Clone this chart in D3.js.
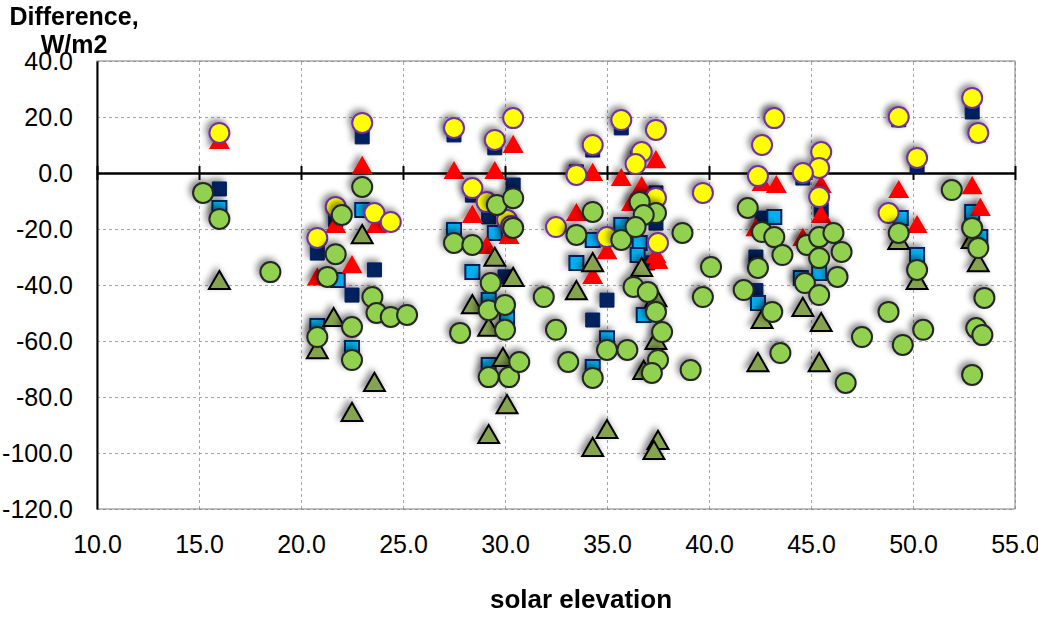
<!DOCTYPE html>
<html>
<head>
<meta charset="utf-8">
<script src="https://cdnjs.cloudflare.com/ajax/libs/d3/7.8.5/d3.min.js"></script>
<style>
body { margin: 0; background: #fff; }
text { font-family: Arial, "Liberation Sans", sans-serif; fill: #000; }
</style>
</head>
<body>
<div id="chart-area"></div>
<script>
// Data: [solar elevation, difference]

const xTicks = [10, 15, 20, 25, 30, 35, 40, 45, 50, 55];
const yTicks = [-120, -100, -80, -60, -40, -20, 0, 20, 40];

const navySquares = [
  [16.0,-5.7],[20.8,-28.6],[21.7,-16.8],[22.5,-43.6],[23.0,12.9],[23.6,-34.6],
  [27.5,13.6],[29.5,9.0],[28.4,-7.9],[29.2,-15.7],[30.4,-4.3],[30.0,-37.1],
  [34.3,8.2],[33.5,0.4],[35.7,16.1],[36.5,5.4],[37.4,-7.1],[37.4,-17.9],
  [37.0,-32.1],[35.0,-45.4],[34.3,-52.5],[43.2,19.6],[44.6,-1.8],[45.5,-13.2],
  [42.6,-16.1],[42.3,-30.0],[42.3,-42.0],[49.3,19.0],[52.9,21.8],[53.2,13.6],[50.2,2.5]
];

const blueSquares = [
  [16.0,-12.5],[20.8,-54.6],[21.8,-38.2],[23.0,-13.2],[22.5,-62.5],[27.5,-20.4],
  [29.5,-21.4],[28.4,-35.4],[29.2,-45.4],[29.2,-68.6],[30.1,-51.8],[34.3,-23.9],
  [33.5,-32.1],[34.3,-69.3],[35.0,-59.0],[35.7,-18.6],[36.6,-25.0],[36.5,-29.3],
  [36.8,-50.7],[43.2,-15.7],[42.4,-33.9],[44.5,-37.5],[45.4,-35.7],[42.4,-46.4],
  [49.4,-16.1],[52.9,-13.9],[53.3,-22.9],[50.2,-29.3]
];

const redTriangles = [
  [16.0,10.7],[20.8,-38.0],[21.7,-19.3],[23.0,1.8],[23.7,-19.3],[22.5,-33.6],
  [27.5,0.0],[29.5,0.0],[28.4,-15.7],[29.1,-26.8],[30.4,9.3],[30.2,-23.2],
  [33.5,-15.0],[35.0,-28.6],[34.3,-37.5],[34.3,-0.7],[37.4,3.9],[35.7,-2.5],
  [36.7,-5.4],[36.2,-11.4],[37.4,-30.0],[37.5,-32.1],[42.6,-4.3],[43.3,-5.0],
  [45.5,-5.0],[45.5,-15.7],[42.3,-20.4],[44.6,-23.9],[49.3,-6.8],[52.9,-5.4],
  [53.3,-13.2],[50.2,-19.3]
];

const yellowCircles = [
  [16.0,14.3],[20.8,-23.2],[21.7,-12.1],[23.0,17.9],[23.6,-14.3],[24.4,-17.5],
  [27.5,16.1],[29.5,11.8],[28.4,-5.4],[29.1,-10.4],[30.4,19.6],[30.1,-16.8],
  [30.3,-18.9],[32.5,-19.3],[35.0,-22.9],[34.3,10.0],[33.5,-0.7],[35.7,18.9],
  [37.4,15.4],[36.7,7.5],[36.4,3.2],[37.4,-8.9],[37.5,-25.0],[43.2,19.6],
  [42.6,10.0],[45.5,7.5],[45.4,1.8],[44.6,0.0],[42.4,-1.1],[39.7,-7.1],
  [45.4,-8.6],[49.3,20.0],[52.9,26.8],[53.2,14.3],[50.2,5.4],[48.8,-14.3]
];

const greenTriangles = [
  [16.0,-39.3],[20.8,-64.0],[21.6,-52.5],[23.0,-22.9],[23.6,-75.7],[22.5,-86.4],
  [28.4,-47.9],[29.5,-31.0],[29.2,-56.0],[29.9,-66.8],[30.1,-83.6],[29.2,-94.3],
  [30.4,-38.2],[34.3,-32.9],[33.5,-42.9],[36.7,-34.6],[37.4,-45.4],[37.4,-60.7],
  [36.8,-71.4],[35.0,-92.5],[34.3,-98.9],[37.5,-96.4],[37.3,-100.0],[44.6,-48.9],
  [42.6,-53.2],[45.5,-54.3],[42.4,-68.6],[45.4,-68.6],[49.3,-25.0],[50.2,-39.3],
  [52.9,-24.6],[53.2,-32.9]
];

const greenCircles = [
  [15.2,-7.1],[16.0,-16.4],[18.5,-35.4],[20.8,-58.6],[21.7,-29.0],[22.0,-15.0],
  [21.3,-37.1],[23.0,-5.0],[23.5,-44.3],[23.7,-50.0],[24.4,-51.4],[25.2,-50.7],
  [22.5,-55.0],[22.5,-66.8],[27.5,-25.0],[28.4,-25.7],[29.6,-11.4],[29.3,-39.3],
  [29.2,-49.0],[27.8,-57.1],[30.0,-56.0],[29.2,-72.9],[30.2,-72.9],[30.4,-9.0],
  [30.4,-19.6],[31.9,-44.3],[30.0,-47.1],[34.3,-13.9],[33.5,-22.1],[35.7,-23.9],
  [32.5,-56.0],[30.7,-67.5],[33.1,-67.5],[34.3,-73.2],[35.0,-63.2],[36.0,-63.2],
  [37.7,-56.8],[37.5,-66.8],[37.2,-71.4],[36.6,-10.4],[37.4,-14.3],[36.8,-15.0],
  [36.4,-19.3],[36.3,-40.7],[37.0,-42.5],[37.4,-49.6],[41.9,-12.5],[42.6,-21.1],
  [43.2,-22.9],[38.7,-21.4],[43.6,-29.3],[44.8,-25.7],[45.4,-22.9],[45.4,-30.4],
  [42.4,-33.9],[40.1,-33.6],[44.7,-39.3],[45.4,-43.6],[41.7,-41.8],[39.7,-44.3],
  [43.1,-49.6],[39.1,-70.4],[43.5,-64.3],[51.9,-6.1],[52.9,-19.6],[53.2,-26.8],
  [49.3,-21.4],[50.2,-34.6],[46.1,-21.4],[46.5,-28.2],[46.3,-37.1],[53.5,-44.6],
  [48.8,-49.6],[47.5,-58.6],[49.5,-61.4],[50.5,-56.0],[53.1,-55.4],[53.4,-57.9],
  [52.9,-72.1],[46.7,-75.0]
];

// Configure canvas //

const margins = {left: 97, right: 23, top: 61, bottom: 111};
const width = 1038 - margins.left - margins.right;
const height = 620 - margins.top - margins.bottom;

var svg = d3.select("#chart-area")
  .append("svg")
  .attr("width", 1038)
  .attr("height", 620);

var defs = svg.append("defs");
var shadow = defs.append("filter")
  .attr("id", "shadow")
  .attr("x", "-100%").attr("y", "-100%")
  .attr("width", "300%").attr("height", "300%");
shadow.append("feDropShadow")
  .attr("dx", -3).attr("dy", -3)
  .attr("stdDeviation", 3)
  .attr("flood-color", "#000")
  .attr("flood-opacity", 0.45);

var g = svg.append("g")
  .attr("transform", "translate(" + margins.left + "," + margins.top + ")");

var x = d3.scaleLinear().domain([10, 55]).range([0, width]);
var y = d3.scaleLinear().domain([-120, 40]).range([height, 0]);

// Gridlines
g.append("g")
  .attr("class", "grid")
  .call(d3.axisLeft(y).tickValues(yTicks).tickSize(-width).tickFormat(""))
  .call(s => s.select(".domain").remove());
g.append("g")
  .attr("class", "grid")
  .attr("transform", "translate(0," + height + ")")
  .call(d3.axisBottom(x).tickValues(xTicks).tickSize(-height).tickFormat(""))
  .call(s => s.select(".domain").remove());
g.selectAll(".grid line")
  .attr("stroke", "#a6a6a6")
  .attr("stroke-dasharray", "3,3");

// Plot border
g.append("rect")
  .attr("width", width)
  .attr("height", height)
  .attr("fill", "none")
  .attr("stroke", "#808080")
  .attr("stroke-width", 1);

// Y axis labels
var yAxis = g.append("g")
  .call(d3.axisLeft(y).tickValues(yTicks).tickSize(0).tickPadding(24)
    .tickFormat(d => d.toFixed(1)));
yAxis.select(".domain").attr("stroke", "#000").attr("stroke-width", 2);
yAxis.selectAll("text").attr("font-size", "25px");

// X axis labels (low)
var xAxis = g.append("g")
  .attr("transform", "translate(0," + height + ")")
  .call(d3.axisBottom(x).tickValues(xTicks).tickSize(0).tickPadding(26)
    .tickFormat(d => d.toFixed(1)));
xAxis.select(".domain").remove();
xAxis.selectAll("text").attr("font-size", "25px");

// Zero line with crossing ticks
[d3.axisBottom(x), d3.axisTop(x)].forEach(a => {
  var z = g.append("g")
    .attr("transform", "translate(0," + y(0) + ")")
    .call(a.tickValues(xTicks).tickSizeOuter(0).tickSizeInner(7).tickFormat(""));
  z.select(".domain").attr("stroke", "#000").attr("stroke-width", 2);
  z.selectAll("line").attr("stroke", "#000").attr("stroke-width", 2);
});

// Markers
const series = [
  {pts: navySquares, shape: "square", fill: "#002060", stroke: "#002060", sw: 1},
  {pts: blueSquares, shape: "square", fill: "#00b0f0", stroke: "#002060", sw: 2},
  {pts: redTriangles, shape: "triangle", fill: "#ff0000", stroke: "none", sw: 0},
  {pts: yellowCircles, shape: "circle", fill: "#ffff00", stroke: "#7030a0", sw: 2},
  {pts: greenTriangles, shape: "triangle", fill: "#86a34e", stroke: "#000", sw: 2},
  {pts: greenCircles, shape: "circle", fill: "#92d050", stroke: "#262626", sw: 2}
];

var symbols = {
  square: d3.symbol().type(d3.symbolSquare).size(14 * 14),
  triangle: d3.symbol().type(d3.symbolTriangle).size(190),
  circle: d3.symbol().type(d3.symbolCircle).size(Math.PI * 10 * 10)
};

series.forEach(s => {
  g.append("g")
    .attr("filter", "url(#shadow)")
    .selectAll("path")
    .data(s.pts)
    .enter()
    .append("path")
    .attr("d", symbols[s.shape])
    .attr("transform", d => "translate(" + x(d[0]) + "," + y(d[1]) + ")")
    .attr("fill", s.fill)
    .attr("stroke", s.stroke)
    .attr("stroke-width", s.sw);
});

// Titles
var yTitle = svg.append("text")
  .attr("x", 73)
  .attr("y", 25)
  .attr("font-size", "25px")
  .attr("font-weight", "bold")
  .attr("text-anchor", "middle");
yTitle.append("tspan").attr("x", 74).text("Difference,");
yTitle.append("tspan").attr("x", 74).attr("dy", 28).text("W/m2");

svg.append("text")
  .attr("x", 581)
  .attr("y", 608)
  .attr("font-size", "26px")
  .attr("font-weight", "bold")
  .attr("text-anchor", "middle")
  .text("solar elevation");
</script>
</body>
</html>
